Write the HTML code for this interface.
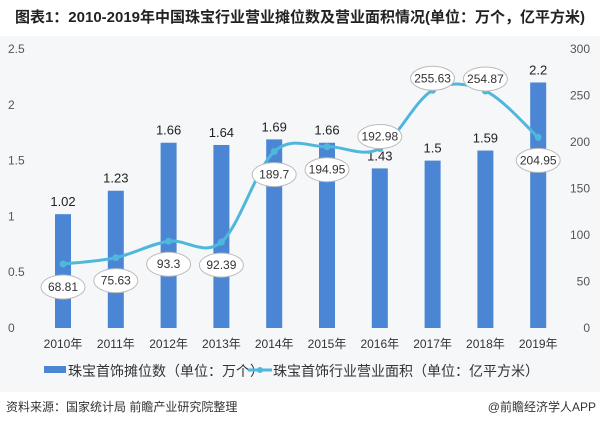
<!DOCTYPE html>
<html><head><meta charset="utf-8"><style>
body{margin:0;width:600px;height:423px;background:#fff;font-family:"Liberation Sans","Noto Sans CJK SC",sans-serif;overflow:hidden;position:relative}
#title{position:absolute;left:0;top:6px;width:600px;text-align:center;font-weight:bold;font-size:15px;color:#222}
#panel{position:absolute;left:0;top:36px;width:600px;height:356px;background:#f6f7f9}
#src{position:absolute;left:6px;top:398px;font-size:12px;color:#333}
#brand{position:absolute;right:4px;top:398px;font-size:12px;color:#333}
</style></head><body>
<div id="title">图表1：2010-2019年中国珠宝行业营业摊位数及营业面积情况(单位：万个，亿平方米)</div>
<div id="panel"></div>
<svg id="chart" width="600" height="423" style="position:absolute;left:0;top:0"></svg>
<div id="src">资料来源：国家统计局 前瞻产业研究院整理</div>
<div id="brand">@前瞻经济学人APP</div>
<script>
const categories=["2010年","2011年","2012年","2013年","2014年","2015年","2016年","2017年","2018年","2019年"];
const stalls=[1.02,1.23,1.66,1.64,1.69,1.66,1.43,1.5,1.59,2.2];
const area=[68.81,75.63,93.3,92.39,189.7,194.95,192.98,255.63,254.87,204.95];
const leftTicks=[0,0.5,1,1.5,2,2.5];
const rightTicks=[0,50,100,150,200,250,300];
const labelAbove=[false,false,false,false,false,false,true,true,true,false];
const NS="http://www.w3.org/2000/svg";
const svg=document.getElementById('chart');
const y0=328,y1=49;
const yL=v=>y0-(v/2.5)*(y0-y1);
const yR=v=>y0-(v/300)*(y0-y1);
const xC=i=>63+i*52.8;
function mk(t,a,txt){const e=document.createElementNS(NS,t);for(const k in a)e.setAttribute(k,a[k]);if(txt!==undefined)e.textContent=txt;svg.appendChild(e);return e;}
leftTicks.forEach(v=>{const e=mk('text',{x:8,y:yL(v)+4,'font-size':12,fill:'#555'},v.toString());
});
rightTicks.forEach(v=>{const e=mk('text',{x:590,y:yR(v)+4,'font-size':12,fill:'#555','text-anchor':'end'},v.toString());
});
categories.forEach((c,i)=>{const e=mk('text',{x:xC(i),y:348,'font-size':12,fill:'#333','text-anchor':'middle'},c);
});
stalls.forEach((v,i)=>{const b=mk('rect',{x:xC(i)-8,y:yL(v),width:16,height:y0-yL(v),fill:'#4a86d4'});

const t=mk('text',{x:xC(i),y:yL(v)-8,'font-size':13,fill:'#222','text-anchor':'middle'},v.toString());
});
const pts=area.map((v,i)=>[xC(i),yR(v)]);
let d='M'+pts[0][0]+','+pts[0][1];
for(let i=0;i<pts.length-1;i++){const p0=pts[i-1]||pts[i],p1=pts[i],p2=pts[i+1],p3=pts[i+2]||p2;
const c1=[p1[0]+(p2[0]-p0[0])/6,p1[1]+(p2[1]-p0[1])/6],c2=[p2[0]-(p3[0]-p1[0])/6,p2[1]-(p3[1]-p1[1])/6];
d+=` C${c1[0]},${c1[1]} ${c2[0]},${c2[1]} ${p2[0]},${p2[1]}`;}
const ln=mk('path',{d:d,fill:'none',stroke:'#4fb7dc','stroke-width':3});

pts.forEach((p,i)=>{const c=mk('circle',{cx:p[0],cy:p[1],r:3.5,fill:'#4fb7dc'});

const ly=labelAbove[i]?p[1]-12:p[1]+23;
const el=mk('ellipse',{cx:p[0],cy:ly,rx:22,ry:12,fill:'#fff',stroke:'#bbb','stroke-width':1});

const t=mk('text',{x:p[0],y:ly+4,'font-size':12,fill:'#333','text-anchor':'middle'},area[i].toString());
});
const lr=mk('rect',{x:44,y:366,width:22,height:7,fill:'#4a86d4'});
const lt=mk('text',{x:68,y:376,'font-size':14,fill:'#333'},'珠宝首饰摊位数（单位：万个）');
const ll=mk('line',{x1:248,y1:370,x2:272,y2:370,stroke:'#4fb7dc','stroke-width':3});
const lc=mk('circle',{cx:260,cy:370,r:3,fill:'#4fb7dc'});
const lt2=mk('text',{x:273,y:376,'font-size':14,fill:'#333'},'珠宝首饰行业营业面积（单位：亿平方米）');
</script>
</body></html>
